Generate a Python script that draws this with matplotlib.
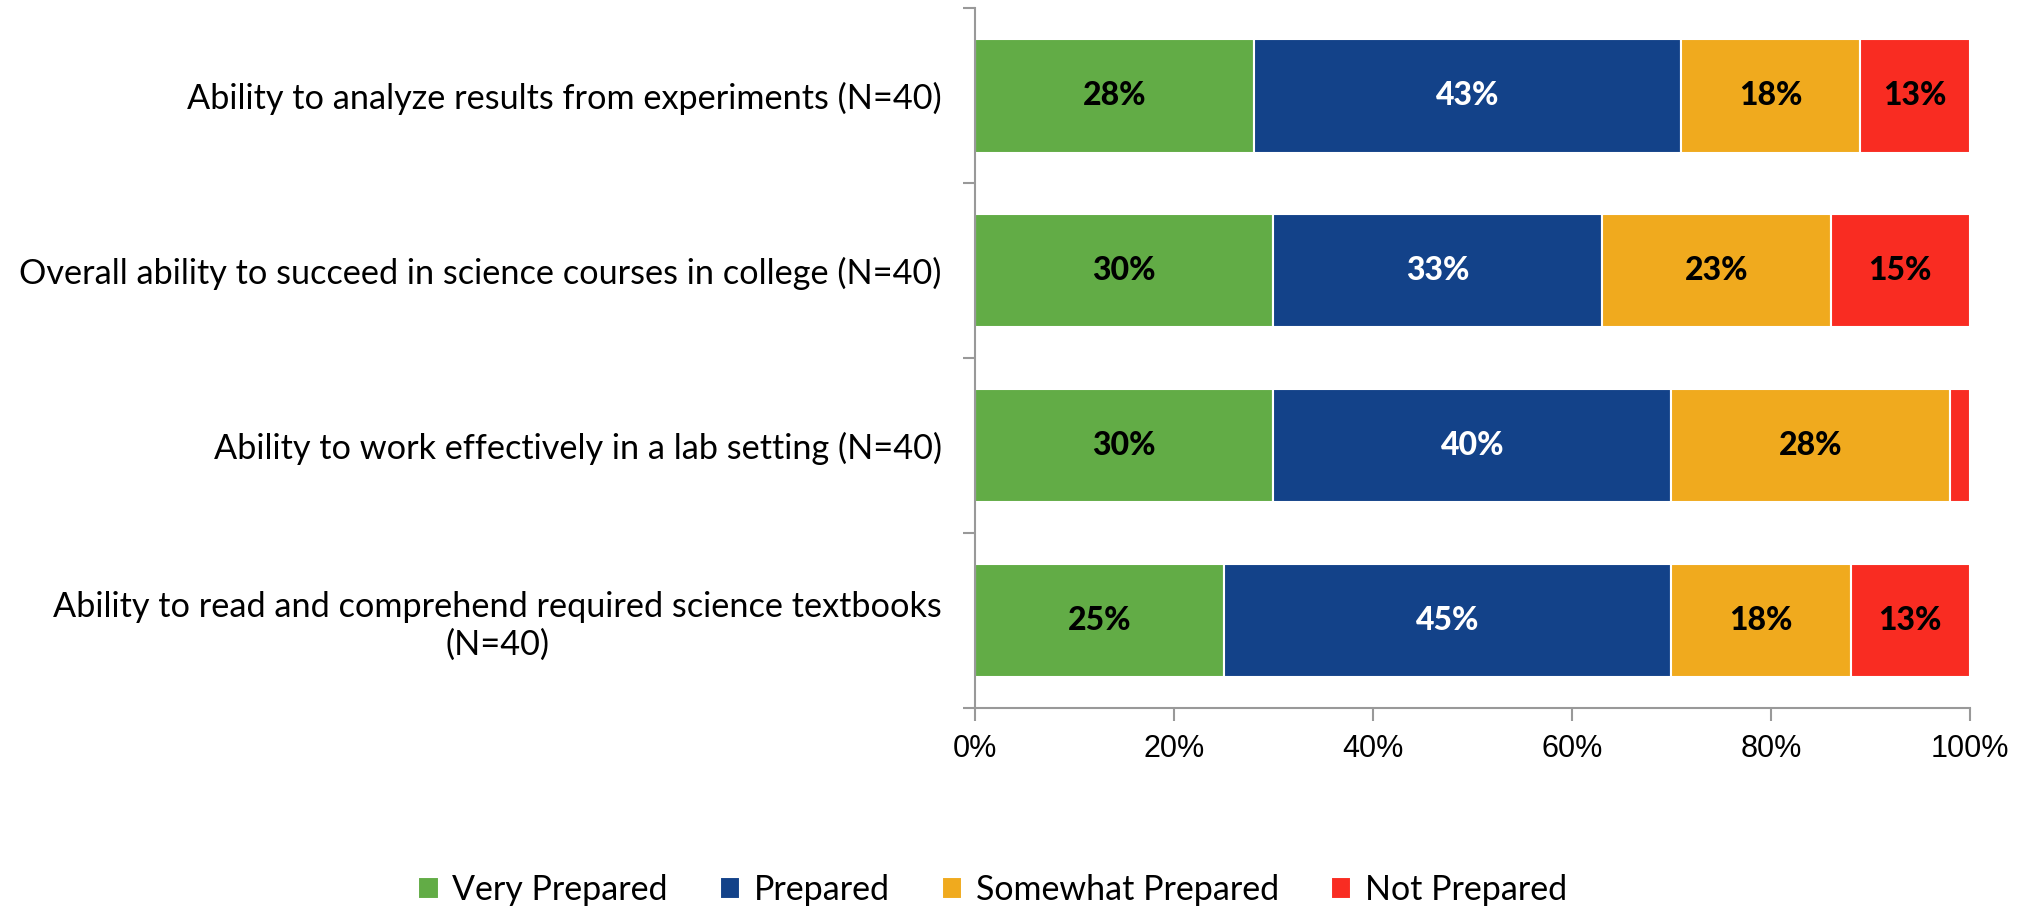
import matplotlib.pyplot as plt
from matplotlib.ticker import MultipleLocator, PercentFormatter

plt.rcParams['font.family'] = ['Lato', 'DejaVu Sans']

# categories from top to bottom
categories = [
    'Ability to analyze results from experiments (N=40)',
    'Overall ability to succeed in science courses in college (N=40)',
    'Ability to work effectively in a lab setting (N=40)',
    'Ability to read and comprehend required science textbooks\n(N=40)',
]
# bar widths as drawn (percent)
very_prepared = [28, 30, 30, 25]
prepared = [43, 33, 40, 45]
somewhat_prepared = [18, 23, 28, 18]
not_prepared = [11, 14, 2, 12]
# data labels as printed on the chart
very_prepared_lbl = ['28%', '30%', '30%', '25%']
prepared_lbl = ['43%', '33%', '40%', '45%']
somewhat_prepared_lbl = ['18%', '23%', '28%', '18%']
not_prepared_lbl = ['13%', '15%', '', '13%']

series_names = ['Very Prepared', 'Prepared', 'Somewhat Prepared', 'Not Prepared']
colors = ['#62AC46', '#134289', '#F0AA1E', '#F92C22']
text_colors = ['black', 'white', 'black', 'black']

fig = plt.figure(figsize=(20.3, 9.1), dpi=100)
ax = fig.add_axes([0.4803, 0.222, 0.4901, 0.769])

ypos = list(range(len(categories)))[::-1]
left = [0] * len(categories)
for vals, lbls, name, col, tcol in zip(
        [very_prepared, prepared, somewhat_prepared, not_prepared],
        [very_prepared_lbl, prepared_lbl, somewhat_prepared_lbl, not_prepared_lbl],
        series_names, colors, text_colors):
    bars = ax.barh(ypos, vals, left=left, height=0.65, color=col,
                   edgecolor='white', linewidth=1.5, label=name)
    for b, t in zip(bars, lbls):
        ax.text(b.get_x() + b.get_width() / 2, b.get_y() + b.get_height() / 2,
                t, ha='center', va='center',
                color=tcol, fontsize=23, fontweight='black')
    left = [l + v for l, v in zip(left, vals)]

ax.set_xlim(0, 100)
ax.set_ylim(-0.5, len(categories) - 0.5)
ax.xaxis.set_major_locator(MultipleLocator(20))
ax.xaxis.set_major_formatter(PercentFormatter(decimals=0))

# y ticks at category boundaries, labels at centres
ax.set_yticks([y - 0.5 for y in range(len(categories) + 1)])
ax.set_yticklabels([])
ax.set_yticks(ypos, minor=True)
ax.set_yticklabels(categories, minor=True, fontsize=24.7, ha='right', multialignment='center')
ax.tick_params(axis='y', which='minor', length=0, pad=24)
ax.tick_params(axis='y', which='major', length=9, width=1.5, color='#999999')
ax.tick_params(axis='x', length=9, width=1.5, color='#999999', labelsize=22, pad=10)
for lbl in ax.get_xticklabels():
    lbl.set_family('Liberation Sans')

for s in ['top', 'right']:
    ax.spines[s].set_visible(False)
for s in ['left', 'bottom']:
    ax.spines[s].set_color('#999999')
    ax.spines[s].set_linewidth(1.5)

fig.legend(loc='center', bbox_to_anchor=(0.489, 0.022), ncol=4, frameon=False,
           fontsize=24.5, handlelength=0.6, handleheight=0.6, handletextpad=0.4,
           columnspacing=1.53)

fig.savefig('out.png', dpi=100)
